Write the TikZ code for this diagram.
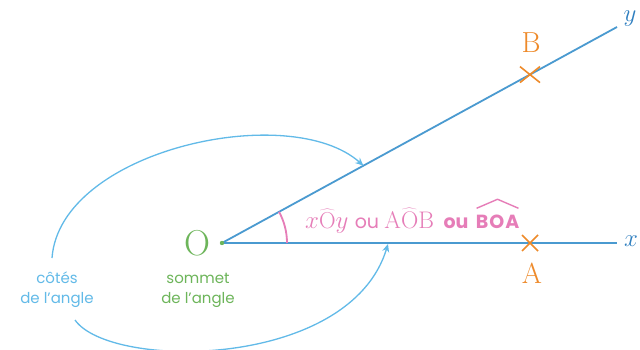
\documentclass[tikz,border=0pt]{standalone}
\usepackage{fontspec}
\setsansfont{Poppins}
\usetikzlibrary{arrows.meta,calc}
\definecolor{rayblue}{HTML}{4A9AD0}
\definecolor{lblblue}{HTML}{2F7FC0}
\definecolor{curveblue}{HTML}{62BAE8}
\definecolor{ptorange}{HTML}{EE8A2A}
\definecolor{vgreen}{HTML}{6DB55A}
\definecolor{apink}{HTML}{E67DB8}
\tikzset{
  ray/.style={draw=rayblue, line width=1.8pt},
  side/.style={draw=curveblue, line width=1.3pt, -{Stealth[length=8pt,width=7pt]}},
  crossmark/.style={draw=ptorange, line width=1.6pt},
  ptlabel/.style={text=ptorange, font=\fontsize{29}{29}\selectfont, inner sep=0pt},
  axlabel/.style={text=lblblue, font=\fontsize{26}{26}\selectfont, inner sep=0pt},
  note/.style={align=center, font=\sffamily\fontsize{15}{20}\selectfont, inner sep=0pt},
  pinktext/.style={text=apink, inner sep=0pt, anchor=base west},
}
\begin{document}
\begin{tikzpicture}[x=1pt,y=-1pt]
\useasboundingbox[fill=white] (0,0) rectangle (640,350);
\coordinate (O) at (222,243);
\coordinate (X) at (617,243);
\coordinate (Y) at (617,27);
\coordinate (A) at (530,243);
\coordinate (B) at ($(O)!0.7797!(Y)$);
\coordinate (s1) at (52,258);
\coordinate (s2) at (75,320);
\coordinate (t1) at ($(O)!0.358!(Y)$);
\coordinate (t2) at (388,244);
% rays
\draw[ray] (O) -- (X);
\draw[ray] (O) -- (Y);
% angle arc
\draw[apink, line width=1.8pt] ($(O)+(65,0)$) arc[start angle=0, end angle=-28.7, radius=65];
% vertex dot
\fill[vgreen] (O) circle[radius=2.2];
% crosses
\draw[crossmark] ($(B)+(-10,-8)$) -- ($(B)+(10,8)$) ($(B)+(-10,8)$) -- ($(B)+(10,-8)$);
\draw[crossmark] ($(A)+(-8,-8)$) -- ($(A)+(8,8)$) ($(A)+(-8,8)$) -- ($(A)+(8,-8)$);
% side curves
\draw[side] (s1) .. controls (60,150) and (290,100) .. (t1);
\draw[side] (s2) .. controls (110,370) and (350,370) .. (t2);
% labels
\node[axlabel] (xl) at (631,241) {$x$};
\node[axlabel] (yl) at (630,19) {$y$};
\node[ptlabel] (Bl) at (531,43) {B};
\node[ptlabel] (Al) at (532,273) {A};
\node[text=vgreen, font=\fontsize{36}{36}\selectfont, inner sep=0pt] (Ol) at (197,243) {O};
\node[note, text=vgreen] (sommet) at (198,290) {sommet\\de l’angle};
\node[note, text=curveblue] (cotes) at (57,290) {côtés\\de l’angle};
% angle names
\node[pinktext, font=\fontsize{23}{23}\selectfont] (n1) at (305,228) {$x\widehat{\mathrm{O}}y$};
\node[pinktext, font=\sffamily\fontsize{19}{19}\selectfont] (ou1) at ($(n1.base east)+(6,0)$) {ou};
\node[pinktext, font=\fontsize{24}{24}\selectfont] (n2) at ($(ou1.base east)+(5,0)$) {$\widehat{\mathrm{AOB}}$};
\node[pinktext, font=\sffamily\bfseries\fontsize{19}{19}\selectfont] (ou2) at ($(n2.base east)+(9,0)$) {ou};
\node[pinktext, font=\sffamily\bfseries\fontsize{19}{19}\selectfont] (n3) at ($(ou2.base east)+(7,0)$) {B\kern1ptO\kern1ptA};
\draw[apink, line width=1.4pt, line join=round]
  ($(n3.north west)+(1,-6)$) -- ($(n3.north)+(0,-15)$) -- ($(n3.north east)+(-1,-6)$);
\end{tikzpicture}
\end{document}
